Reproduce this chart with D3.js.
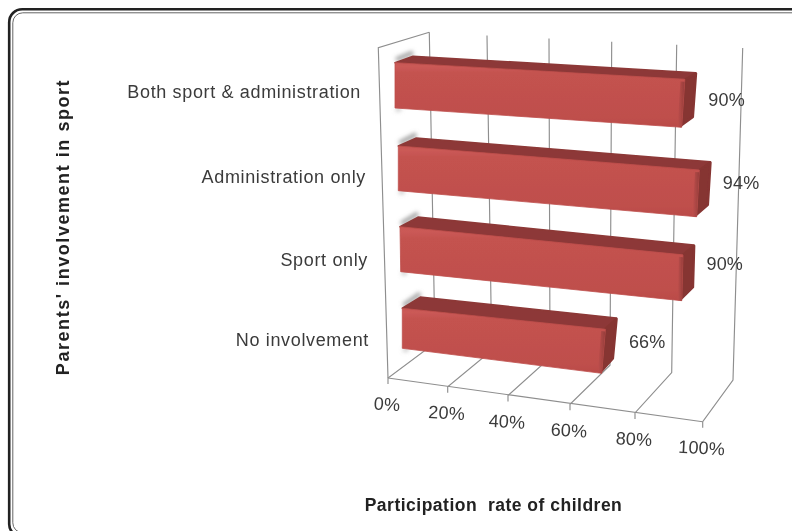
<!DOCTYPE html>
<html><head><meta charset="utf-8">
<style>html,body{margin:0;padding:0;background:#fff;overflow:hidden}svg{display:block}
text{font-family:"Liberation Sans",Arial,sans-serif}</style>
<script src="https://cdn.jsdelivr.net/npm/d3@7"></script></head><body>
<script>
const categories = ["Both sport & administration","Administration only","Sport only","No involvement"];
const values = [90,94,90,66];
const tickValues = [0,20,40,60,80,100];
const tickLabels = ["0%","20%","40%","60%","80%","100%"];
const yTitle = "Parents' involvement in sport";
const xTitle = "Participation\u00a0 rate of children";

const W=792,H=531;
const svg=d3.select("body").append("svg").attr("width",W).attr("height",H);
const defs=svg.append("defs");
const blur=(id,s)=>defs.append("filter").attr("id",id).attr("filterUnits","userSpaceOnUse").attr("x",0).attr("y",0).attr("width",W).attr("height",H)
  .append("feGaussianBlur").attr("stdDeviation",s);
blur("soft",0.45);blur("softT",0.35);blur("shadow",1.9);blur("frameSoft",0.3);
const vg=defs.append("linearGradient").attr("id","front").attr("x1",0).attr("x2",0).attr("y1",0).attr("y2",1);
[[0,"#c75754"],[0.06,"#cb5a57"],[0.16,"#c4524f"],[0.85,"#bf4f4c"],[1,"#ba4b48"]].forEach(d=>vg.append("stop").attr("offset",d[0]).attr("stop-color",d[1]));
const hg=defs.append("linearGradient").attr("id","bevel");
[[0,"#bf4f4c"],[1,"#973e3c"]].forEach(d=>hg.append("stop").attr("offset",d[0]).attr("stop-color",d[1]));

// frame (extends past the right edge of the picture)
const frame=svg.append("g").attr("filter","url(#frameSoft)");
frame.append("rect").attr("x",9.2).attr("y",9.2).attr("width",900).attr("height",528).attr("rx",13)
  .attr("fill","none").attr("stroke","#222").attr("stroke-width",2.6);
frame.append("rect").attr("x",12.8).attr("y",12.8).attr("width",890).attr("height",520).attr("rx",10)
  .attr("fill","none").attr("stroke","#666").attr("stroke-width",1);

// walls and floor
const frontX=d3.scaleLinear().domain(tickValues).range([388,447.7,508,570,635,702.7]);
const frontY=d3.scaleLinear().domain([0,100]).range([378,421.7]);
const backBotX=d3.scaleLinear().domain(tickValues).range([435,491.7,550,610,671.7,733]);
const backBotY=d3.scaleLinear().domain([0,100]).range([343,380]);
const backTopX=d3.scaleLinear().domain(tickValues).range([429.3,487,549,611.7,676.7,742.7]);
const backTopY=d3.scaleLinear().domain([0,100]).range([32.3,48]);
const gridColor="#8e8e8e";
const chart=svg.append("g").attr("filter","url(#soft)");
const line=d3.line();
const grid=chart.append("g").attr("fill","none").attr("stroke",gridColor).attr("stroke-width",1.15);
tickValues.forEach(v=>{
  grid.append("path").attr("d",line([[backTopX(v),backTopY(v)],[backBotX(v),backBotY(v)],[frontX(v),frontY(v)],[frontX(v),frontY(v)+6]]));
});
grid.append("path").attr("d",line([[frontX(0),frontY(0)],[frontX(100),frontY(100)]]));
grid.append("path").attr("d",line([[backTopX(0),backTopY(0)],[378.3,47.7],[frontX(0),frontY(0)]]));

// bar front-plane calibration per category position
const pos=d3.scalePoint().domain(categories).range([0,3]);
const idx=[0,1,2,3];
const leftX0=d3.scaleLinear().domain(idx).range([395,398.3,400,402.3]);
const leftX1=d3.scaleLinear().domain(idx).range([395,398.3,400.7,402.3]);
const leftY0=d3.scaleLinear().domain(idx).range([62.7,146,226.7,308.3]);
const leftY1=d3.scaleLinear().domain(idx).range([108,190.7,271.7,348.3]);
const rightX0=d3.scaleLinear().domain(idx).range([717,718.5,714.4,710]);
const rightX1=d3.scaleLinear().domain(idx).range([713.5,715.7,713,704.4]);
const rightY0=d3.scaleLinear().domain(idx).range([81.1,171.5,258,340.1]);
const rightY1=d3.scaleLinear().domain(idx).range([129.4,218.4,303.9,386.2]);
const frac=d3.scaleLinear().domain([0,100]).range([0,1]);
const depthDx=d3.scaleLinear().domain([0,100]).range([18,16]);
const depthDy=d3.scaleLinear().domain([60,375]).range([-7,-13]);
function F(i,v,edge){
  const t=frac(v);
  const x0=leftX0(i)+(rightX0(i)-leftX0(i))*t, y0=leftY0(i)+(rightY0(i)-leftY0(i))*t;
  const x1=leftX1(i)+(rightX1(i)-leftX1(i))*t, y1=leftY1(i)+(rightY1(i)-leftY1(i))*t;
  return [x0+(x1-x0)*edge,y0+(y1-y0)*edge];
}
const B=(p,v)=>[p[0]+(v===0?depthDx(0):12.5),p[1]+depthDy(p[1])];
const poly=pts=>line(pts)+"Z";

categories.forEach((c,n)=>{
  const i=pos(c),v=values[n];
  const g=chart.append("g");
  const a=F(i,0,0),b=F(i,v,0),cc=F(i,v,1),d=F(i,0,1);
  // soft grey shadow behind the bar's left end
  g.append("path").attr("d",line([[a[0]+1,a[1]-3],B(a,0).map((q,k)=>q-(k?3:0))]))
    .attr("stroke","#999").attr("stroke-width",4).attr("fill","none").attr("filter","url(#shadow)");
  g.append("path").attr("d",line([[d[0]+1,d[1]+2],[d[0]+6,d[1]+1]]))
    .attr("stroke","#b5b5b5").attr("stroke-width",3).attr("fill","none").attr("filter","url(#shadow)");
  // top face and right side, slightly inset with wide round joins for the rounded corners
  const ib=B(b,v),ic=B(cc,v);
  const inset=(p,dx,dy)=>[p[0]+dx,p[1]+dy];
  g.append("path").attr("d",poly([a,inset(B(a,0),0,0.6),inset(ib,-1.6,0.8),inset(b,-1,1)])).attr("fill","#8d3937").attr("stroke","#8d3937").attr("stroke-width",1.6).attr("stroke-linejoin","round");
  g.append("path").attr("d",poly([inset(b,-1,1),inset(ib,-1.4,1.6),inset(ic,-1.4,-2),inset(cc,-1,-1.5)])).attr("fill","#863432").attr("stroke","#863432").attr("stroke-width",2.6).attr("stroke-linejoin","round");
  // front face
  g.append("path").attr("d",poly([a,b,cc,d])).attr("fill","url(#front)").attr("stroke","#bf4f4c").attr("stroke-width",0.8).attr("stroke-linejoin","round");
  // soft bevel at the right edge
  g.append("path").attr("d",poly([F(i,v-1.3,0.05),F(i,v,0.05),F(i,v,1),F(i,v-1.3,1)])).attr("fill","url(#bevel)");
});

// text
const T=svg.append("g").attr("filter","url(#softT)").attr("fill","#3a3a3a");
const catX=d3.scaleLinear().domain(idx).range([361,366,368,369]);
const catY=d3.scaleLinear().domain(idx).range([92,177,260,340]);
const lblY=d3.scaleLinear().domain(idx).range([100,183,264,342]);
T.selectAll("text.cat").data(categories).join("text").attr("class","cat")
  .attr("x",d=>catX(pos(d))).attr("y",d=>catY(pos(d))).attr("dy","0.35em").attr("text-anchor","end")
  .attr("font-size",18).attr("letter-spacing",0.65).text(d=>d);
T.selectAll("text.val").data(values).join("text").attr("class","val")
  .attr("x",(d,n)=>B(F(n,d,0),d)[0]+11).attr("y",(d,n)=>lblY(n)).attr("dy","0.35em")
  .attr("font-size",18).attr("letter-spacing",0.2).text(d=>d+"%");
T.selectAll("text.tick").data(tickValues).join("text").attr("class","tick")
  .attr("transform",d=>`translate(${frontX(d)-1},${frontY(d)+26}) rotate(3)`)
  .attr("dy","0.35em").attr("text-anchor","middle")
  .attr("font-size",18).attr("letter-spacing",0.2).text((d,n)=>tickLabels[n]);
T.append("text").attr("transform","translate(63,227) rotate(-90)").attr("text-anchor","middle").attr("dy","0.35em")
  .attr("font-size",18).attr("font-weight","bold").attr("fill","#222").attr("letter-spacing",1.55).text(yTitle);
T.append("text").attr("x",493.5).attr("y",505).attr("text-anchor","middle").attr("dy","0.35em")
  .attr("font-size",17.5).attr("font-weight","bold").attr("fill","#222").attr("letter-spacing",0.5).text(xTitle);
</script></body></html>
